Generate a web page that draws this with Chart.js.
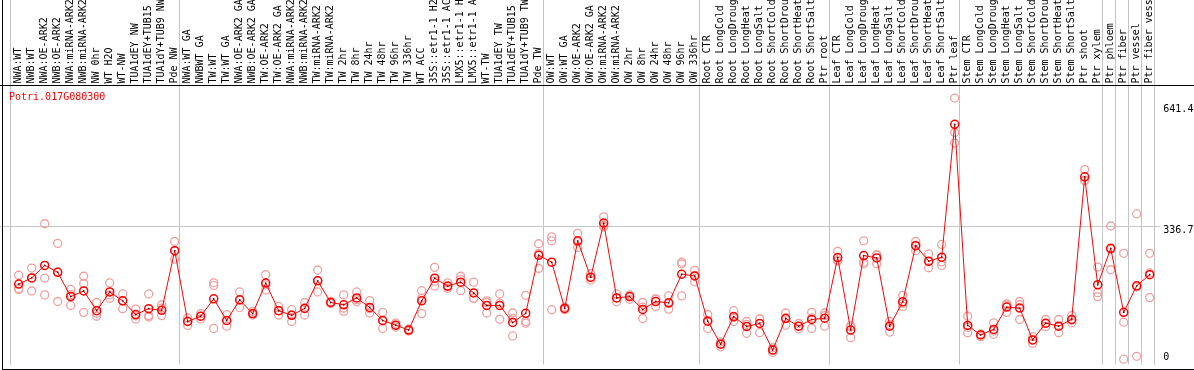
<!DOCTYPE html>
<html><head><meta charset="utf-8">
<script src="https://cdn.jsdelivr.net/npm/chart.js@4.4.1/dist/chart.umd.min.js"></script>
<style>html,body{margin:0;padding:0;background:#fff;overflow:hidden}#wrap{width:1194px;height:370px;position:relative}</style>
</head><body><div id="wrap"><canvas id="c" width="1194" height="370"></canvas></div>
<script>
const geneTitle = "Potri.017G080300";
const categories = [
 "NWA:WT","NWB:WT","NWA:OE-ARK2","NWB:OE-ARK2","NWA:miRNA-ARK2","NWB:miRNA-ARK2","NW 0hr","WT H2O","WT-NW","TUA1dEY NW","TUA1dEY+TUB15 NW","TUA1dY+TUB9 NW","Pde NW",
 "NWA:WT GA","NWBWT GA","TW:WT","TW:WT GA","NWA:OE-ARK2 GA","NWB:OE-ARK2 GA","TW:OE-ARK2","TW:OE-ARK2 GA","NWA:miRNA-ARK2 GA","NWB:miRNA-ARK2 GA","TW:miRNA-ARK2","TW:miRNA-ARK2 GA","TW 2hr","TW 8hr","TW 24hr","TW 48hr","TW 96hr","TW 336hr","WT ACC","35S::etr1-1 H2O","35S::etr1-1 ACC","LMX5::etr1-1 H2O","LMX5::etr1-1 ACC","WT-TW","TUA1dEY TW","TUA1dEY+TUB15 TW","TUA1dY+TUB9 TW","Pde TW",
 "OW:WT","OW:WT GA","OW:OE-ARK2","OW:OE-ARK2 GA","OW:miRNA-ARK2","OW:miRNA-ARK2 GA","OW 2hr","OW 8hr","OW 24hr","OW 48hr","OW 96hr","OW 336hr",
 "Root CTR","Root LongCold","Root LongDrought","Root LongHeat","Root LongSalt","Root ShortCold","Root ShortDrought","Root ShortHeat","Root ShortSalt","Ptr root",
 "Leaf CTR","Leaf LongCold","Leaf LongDrought","Leaf LongHeat","Leaf LongSalt","Leaf ShortCold","Leaf ShortDrought","Leaf ShortHeat","Leaf ShortSalt","Ptr leaf",
 "Stem CTR","Stem LongCold","Stem LongDrought","Stem LongHeat","Stem LongSalt","Stem ShortCold","Stem ShortDrought","Stem ShortHeat","Stem ShortSalt","Ptr shoot","Ptr xylem",
 "Ptr phloem","Ptr fiber","Ptr vessel","Ptr fiber vessel"
];
const meanValues = [
 189.5,205.1,236.7,219.3,157.9,172.1,122.4,169.6,147.3,112.5,127.4,123.2,273.9,
 95.1,108.3,152.2,97.6,149.7,115.0,192.0,122.4,110.8,128.1,197.7,143.0,137.3,154.7,130.6,97.6,85.9,73.5,147.3,204.4,184.5,194.4,167.1,135.6,135.6,92.6,115.7,262.2,
 244.8,128.1,298.7,206.9,343.4,154.7,157.9,125.6,145.5,142.3,214.3,210.1,
 95.9,38.0,107.5,82.7,90.1,23.1,102.6,83.4,100.1,103.3,
 256.5,73.5,261.5,255.5,83.4,144.8,286.3,247.3,257.3,592.5,
 85.2,61.1,75.2,131.4,128.9,48.7,90.9,83.4,100.1,460.1,187.7,
 279.6,118.2,185.2,213.3
];
const rep1 = [
 211.8,229.9,341.7,292.0,176.1,209.3,143.0,192.7,164.6,126.4,164.6,137.3,297.0,
 104.0,115.0,192.7,112.5,169.6,120.7,213.3,133.1,124.9,143.0,225.0,145.5,162.2,169.6,148.0,118.2,90.9,76.0,172.8,231.7,192.7,209.3,194.4,147.3,164.6,116.5,161.2,291.3,
 308.7,131.4,317.6,215.8,359.1,164.6,162.2,143.0,152.2,159.7,244.8,224.2,
 112.5,43.7,122.4,95.1,101.6,28.8,116.5,90.1,118.2,116.5,
 272.2,85.2,298.7,264.0,95.1,161.2,297.0,265.5,289.5,658.8,
 108.3,63.6,91.6,139.8,145.5,56.9,100.1,100.1,110.0,478.3,232.4,
 336.0,267.2,366.5,267.2
];
const rep2 = [
 178.5,205.1,204.4,220.0,162.9,191.0,115.7,162.2,148.0,109.5,110.0,128.9,273.4,
 95.9,108.3,186.0,97.1,149.2,113.2,187.7,122.4,112.0,129.9,198.4,143.0,128.9,149.7,127.4,96.6,85.9,73.5,153.7,196.9,182.8,200.9,153.7,143.0,141.3,102.6,95.1,266.4,
 298.7,128.1,296.2,205.1,337.5,154.7,157.9,131.4,151.2,140.5,240.6,210.8,
 97.6,38.7,105.0,87.7,101.6,23.1,105.0,83.4,104.0,110.0,
 249.1,81.0,244.8,262.2,86.7,140.5,287.8,245.6,245.6,571.9,
 80.2,62.8,71.0,136.3,137.3,48.7,90.1,83.4,98.3,451.7,167.9,
 277.1,93.4,182.0,217.5
];
const rep3 = [
 176.1,172.1,162.2,145.5,135.6,118.2,108.3,153.7,127.4,101.6,106.5,110.0,252.3,
 85.2,101.6,77.7,83.4,130.6,111.5,174.6,111.5,95.1,111.5,169.6,140.5,120.7,144.8,116.5,77.7,81.0,71.0,115.0,184.5,178.5,172.8,153.0,116.5,100.8,58.6,90.9,229.2,
 124.9,124.9,282.1,199.4,333.5,144.8,151.2,102.6,133.1,126.4,159.7,195.2,
 77.7,31.3,95.1,65.3,66.8,17.1,85.9,76.7,77.7,83.4,
 248.1,54.4,240.6,240.6,68.5,133.1,273.9,230.7,236.7,545.3,
 66.8,56.9,62.8,118.2,100.1,40.5,82.7,66.8,91.6,450.2,157.9,
 225.7,0,7.2,155.4
];
const yTickValues = [0, 336.7, 641.4];
const yGridValue = 336.7;
const groupStarts = [0, 13, 41, 53, 63, 73, 84, 85, 86, 87, 88];

const FONT = '"DejaVu Sans Mono", "Liberation Mono", monospace';

const decor = {
  id: 'decor',
  beforeDatasetsDraw(chart) {
    const ctx = chart.ctx, xs = chart.scales.x, ys = chart.scales.y;
    ctx.save();
    ctx.lineWidth = 1;
    ctx.strokeStyle = '#c4c4c4';
    const gy = Math.round(ys.getPixelForValue(yGridValue)) + 0.5;
    ctx.beginPath(); ctx.moveTo(0, gy); ctx.lineTo(1160, gy); ctx.stroke();
    groupStarts.forEach(g => {
      const px = Math.floor(xs.getPixelForValue(g - 0.6)) + 0.5;
      ctx.beginPath(); ctx.moveTo(px, 0); ctx.lineTo(px, chart.chartArea.bottom); ctx.stroke();
    });
    ctx.strokeStyle = '#000';
    ctx.beginPath();
    ctx.moveTo(0, 85.5); ctx.lineTo(1194, 85.5);
    ctx.moveTo(2.5, 0); ctx.lineTo(2.5, 370);
    ctx.moveTo(2, 369.5); ctx.lineTo(1194, 369.5);
    ctx.stroke();
    ctx.fillStyle = '#ff0000';
    ctx.font = '10px ' + FONT;
    ctx.textBaseline = 'alphabetic';
    ctx.textAlign = 'left';
    ctx.fillText(geneTitle, 9, 100);
    ctx.restore();
  }
};

const repStyle = { showLine: false, pointRadius: 4, pointBorderWidth: 1.3,
  pointBorderColor: '#eea0a0', pointBackgroundColor: 'rgba(0,0,0,0)', clip: false };

new Chart(document.getElementById('c'), {
  type: 'line',
  data: {
    labels: categories,
    datasets: [
      { label: 'meanDot', data: meanValues, order: -1, showLine: false, pointRadius: 0.9, pointBorderWidth: 0,
        pointBackgroundColor: '#700000', clip: false },
      { label: 'mean', data: meanValues, order: 0, borderColor: '#ff0000', borderWidth: 1,
        pointRadius: 4, pointBorderWidth: 1.5, pointBorderColor: '#ff0000', pointBackgroundColor: 'rgba(0,0,0,0)',
        tension: 0, clip: false },
      Object.assign({ label: 'rep1', data: rep1, order: 1 }, repStyle),
      Object.assign({ label: 'rep2', data: rep2, order: 2 }, repStyle),
      Object.assign({ label: 'rep3', data: rep3, order: 3 }, repStyle)
    ]
  },
  options: {
    responsive: false, devicePixelRatio: 1, animation: false,
    layout: { padding: { left: 18.7, right: 0, top: 0, bottom: 1 } },
    plugins: { legend: { display: false }, tooltip: { enabled: false }, title: { display: false } },
    scales: {
      x: {
        type: 'category', position: 'top', offset: false,
        grid: { display: false, drawTicks: false }, border: { display: false },
        ticks: { autoSkip: false, minRotation: 90, maxRotation: 90, padding: 1.5, labelOffset: 12,
                 color: '#000', font: { family: FONT, size: 10 } },
        afterFit: s => { s.height = 85; s.paddingLeft = 0; s.paddingRight = 0; }
      },
      y: {
        position: 'right', min: -13.4, max: 691.8,
        grid: { display: false, drawTicks: false }, border: { display: false },
        afterBuildTicks: s => { s.ticks = yTickValues.map(v => ({ value: v })); },
        ticks: { padding: 13.6, labelOffset: 4.7, color: '#000', font: { family: FONT, size: 10 },
                 callback: v => v === 0 ? ['0', ''] : String(v) },
        afterFit: s => { s.width = 44.3; s.paddingTop = 0; s.paddingBottom = 0; }
      }
    }
  },
  plugins: [decor]
});
</script></body></html>
